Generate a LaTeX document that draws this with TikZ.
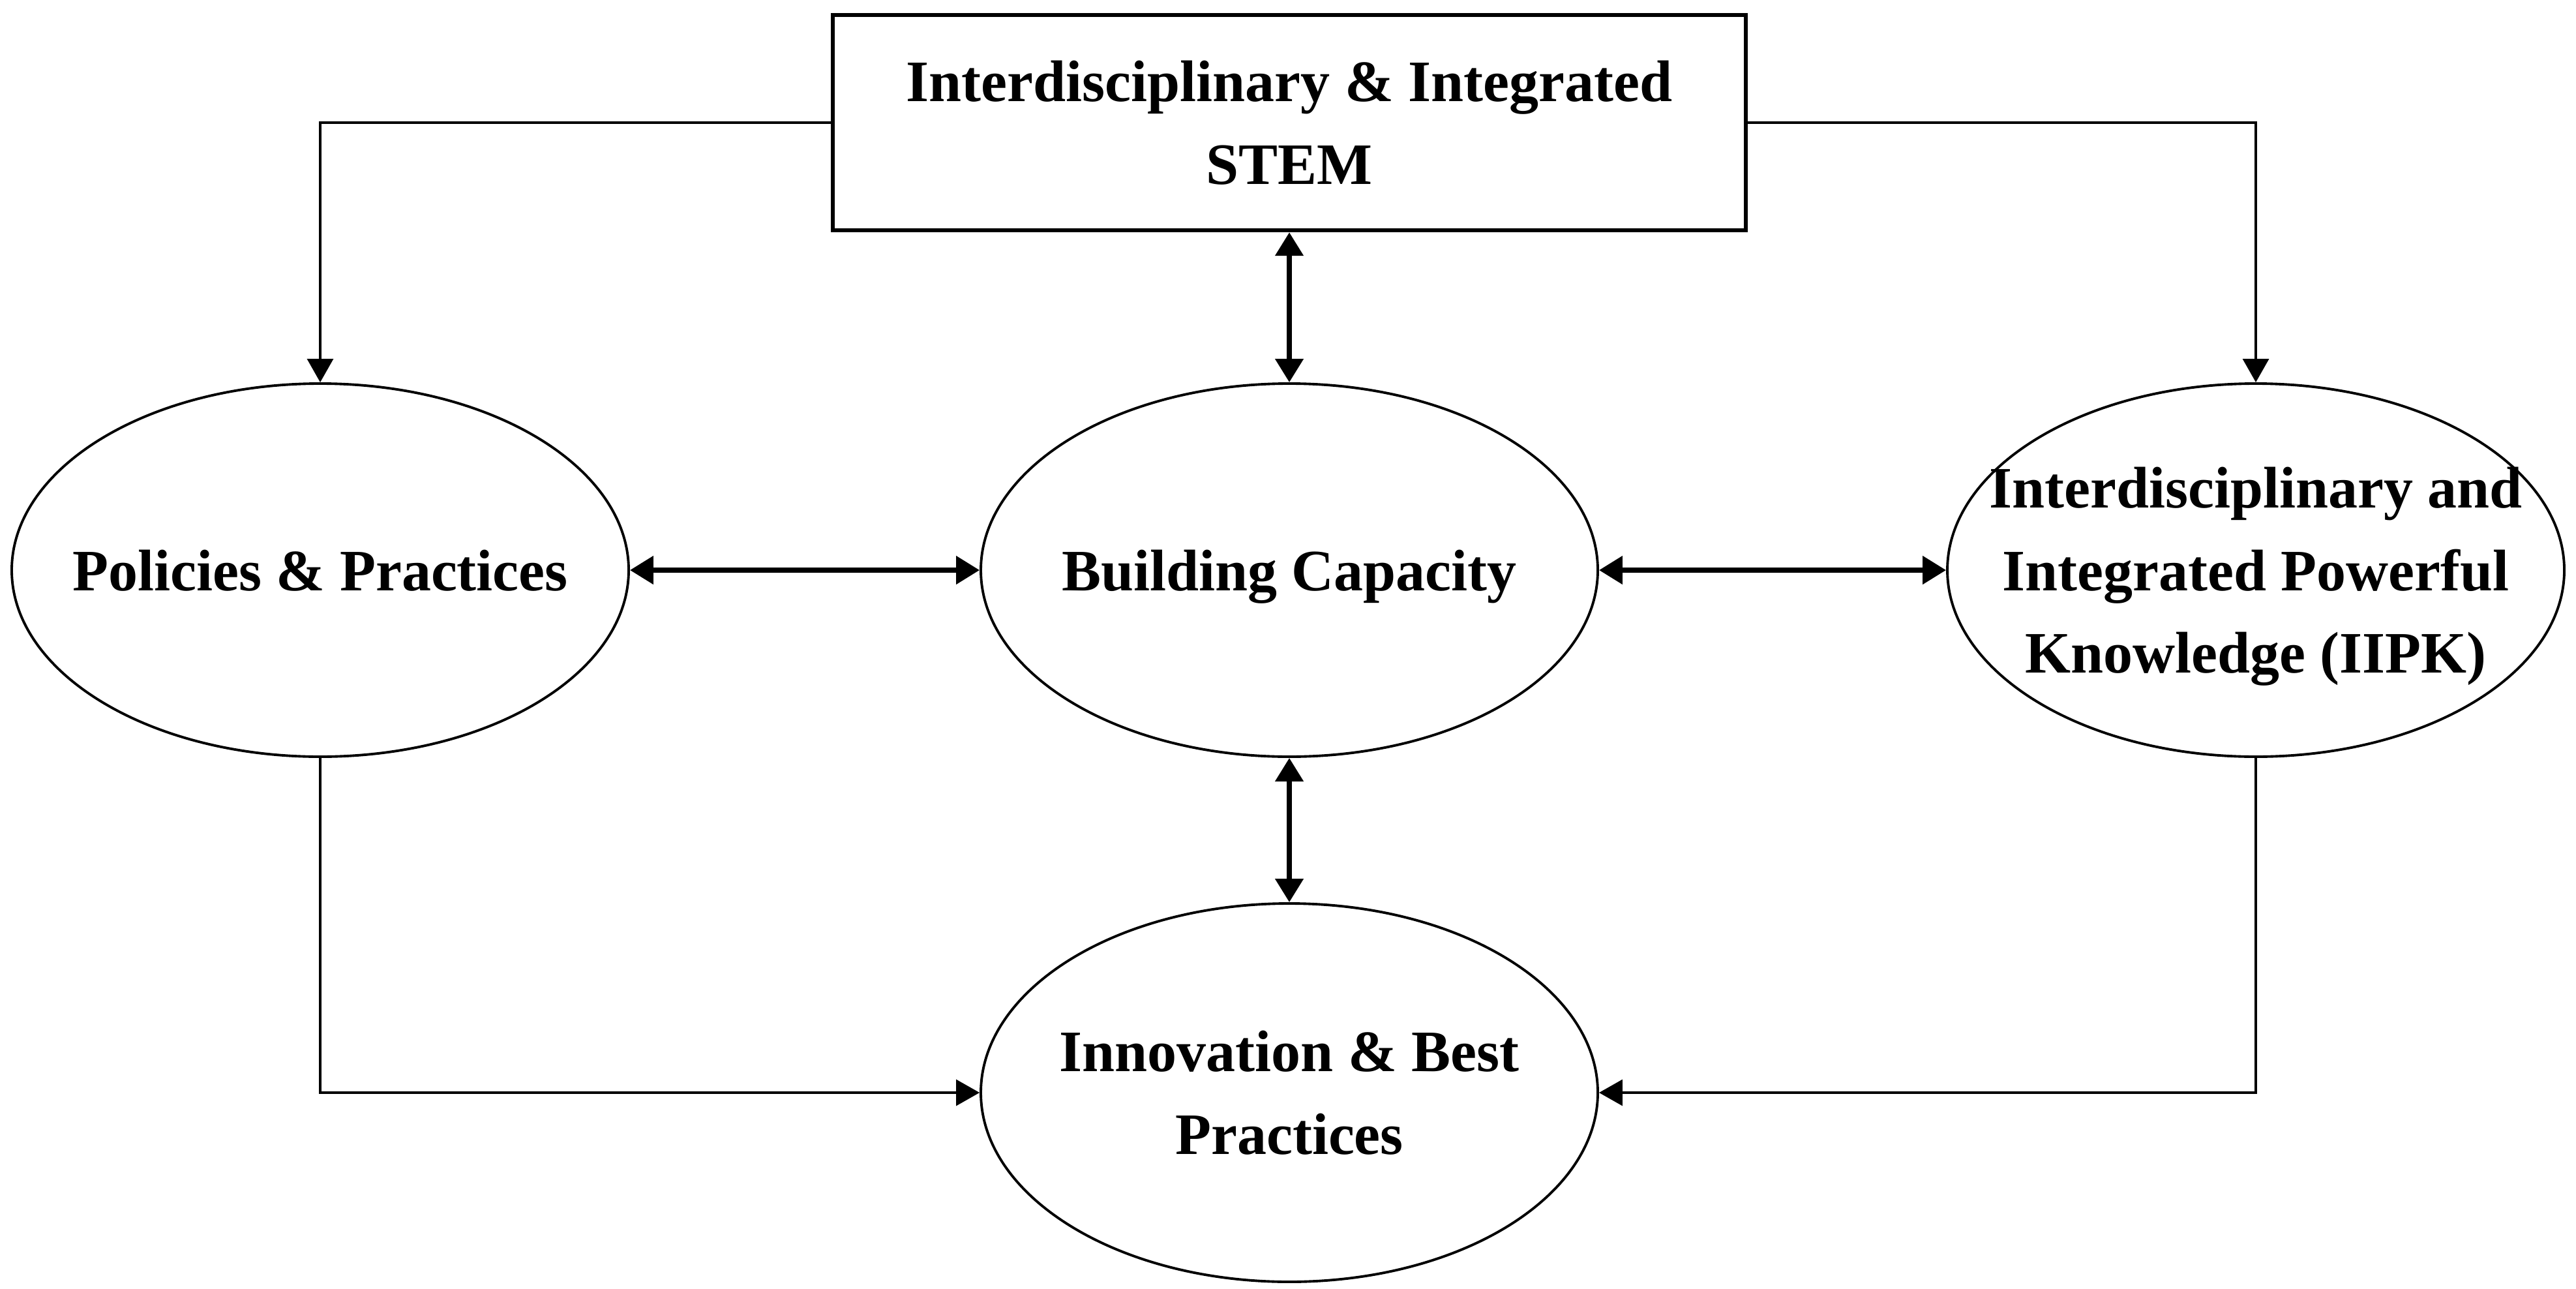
\documentclass[tikz,border=0pt]{standalone}
\usepackage{fontspec}
\setmainfont{Liberation Serif}
\usetikzlibrary{arrows.meta,shapes.geometric}

\begin{document}
\begin{tikzpicture}[every node/.style={font=\fontsize{25.6}{36}\selectfont\bfseries,align=center,text depth=0pt},
  blob/.style={draw,ellipse,line width=1.1pt,inner xsep=-3cm,inner ysep=-1.2cm,minimum width=9.46cm,minimum height=5.72cm},
  flow/.style={line width=0.9pt,-{Triangle[length=0.36cm,width=0.4cm]}},
  link/.style={line width=2.2pt,{Triangle[length=0.36cm,width=0.42cm]}-{Triangle[length=0.36cm,width=0.42cm]}}]
  \useasboundingbox (0,0) rectangle (39.5,-19.75);
  \node[draw,line width=1.8pt,minimum width=14.0cm,minimum height=3.3cm] (stem) at (19.77,-1.88){Interdisciplinary \& Integrated\\STEM};
  \node[blob] (pol) at (4.91,-8.74){Policies \& Practices};
  \node[blob] (cap) at (19.77,-8.74){Building Capacity};
  \node[blob] (iipk) at (34.59,-8.74){Interdisciplinary and\\Integrated Powerful\\Knowledge (IIPK)};
  \node[blob,minimum height=5.8cm] (inno) at (19.77,-16.75){Innovation \& Best\\Practices};
  \draw[flow] (stem.west) -| (pol.north);
  \draw[flow] (stem.east) -| (iipk.north);
  \draw[flow] (pol.south) |- (inno.west);
  \draw[flow] (iipk.south) |- (inno.east);
  \draw[link] (stem.south) -- (cap.north);
  \draw[link] (cap.south) -- (inno.north);
  \draw[link] (pol.east) -- (cap.west);
  \draw[link] (cap.east) -- (iipk.west);
\end{tikzpicture}
\end{document}
